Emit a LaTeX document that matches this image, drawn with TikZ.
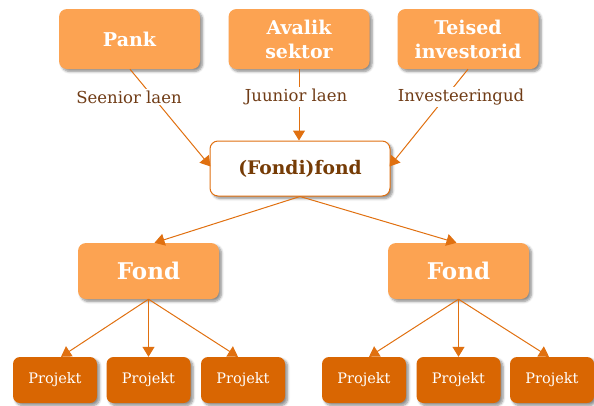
\documentclass[tikz,border=0pt]{standalone}
\usepackage{fontspec}
\setmainfont{DejaVu Serif}
\usetikzlibrary{arrows.meta,shadows.blur,calc}
\definecolor{lightorange}{RGB}{252,163,82}
\definecolor{darkorange}{RGB}{217,102,2}
\definecolor{lineorange}{RGB}{224,112,16}
\definecolor{labelbrown}{RGB}{112,60,22}
\definecolor{titlebrown}{RGB}{118,60,6}
\tikzset{
  boxshadow/.style={blur shadow={shadow xshift=2.5pt, shadow yshift=-2.5pt,
      shadow blur steps=6, shadow blur radius=2.5pt, shadow opacity=45}},
  topbox/.style={rectangle, rounded corners=8pt, fill=lightorange, text=white,
      minimum width=141pt, minimum height=60pt, align=center, inner sep=0pt,
      font=\fontsize{19}{24}\selectfont\bfseries, boxshadow},
  hubbox/.style={rectangle, rounded corners=8pt, fill=white, draw=lineorange,
      line width=1pt, text=titlebrown, minimum width=180pt, minimum height=55pt,
      inner sep=0pt, font=\fontsize{18.7}{22}\selectfont\bfseries, boxshadow},
  fundbox/.style={rectangle, rounded corners=8pt, fill=lightorange, text=white,
      minimum width=141pt, minimum height=56pt, inner sep=0pt,
      font=\fontsize{23}{27}\selectfont\bfseries, boxshadow},
  projbox/.style={rectangle, rounded corners=7pt, fill=darkorange, text=white,
      minimum width=84pt, minimum height=46pt, inner sep=0pt,
      font=\fontsize{14.5}{17}\selectfont, boxshadow},
  flowlabel/.style={fill=white, text=labelbrown, inner sep=2pt,
      font=\fontsize{16.5}{19}\selectfont},
  flow/.style={draw=lineorange, line width=1pt,
      -{Triangle[length=10pt,width=12pt]}},
}
\begin{document}
\begin{tikzpicture}[x=1pt,y=-1pt]
\useasboundingbox (0,0) rectangle (594,405);

% sources
\node[topbox] (pank)   at (129.5,39) {Pank};
\node[topbox] (avalik) at (299,39)   {Avalik\\sektor};
\node[topbox] (teised) at (468,39)   {Teised\\investorid};

% fund of funds
\node[hubbox] (hub) at (300,168.5) {(Fondi)fond};

% funds
\node[fundbox] (fondL) at (148.5,271) {Fond};
\node[fundbox] (fondR) at (458.5,271) {Fond};

% projects
\foreach \i/\x in {1/55,2/148.5,3/243,4/364,5/458.5,6/552}
  \node[projbox] (p\i) at (\x,380) {Projekt};

% financing flows into the fund of funds
\draw[flow] ($(pank.south)+(0.5,0)$) -- ($(hub.west)+(1,-2)$);
\draw[flow] (avalik.south) -- (avalik.south |- hub.north);
\draw[flow] (teised.south) -- ($(hub.east)+(-1,-2)$);

\node[flowlabel] (lab1) at (129,97) {Seenior laen};
\node[flowlabel] (lab2) at (296,97) {Juunior laen};
\node[flowlabel] (lab3) at (461,97) {Investeeringud};

% fund of funds to funds
\draw[flow] (hub.south) -- ($(fondL.north)+(6,0)$);
\draw[flow] (hub.south) -- ($(fondR.north)+(-2,0)$);

% funds to projects
\draw[flow] (fondL.south) -- ($(p1.north)+(6,0)$);
\draw[flow] (fondL.south) -- (p2.north);
\draw[flow] (fondL.south) -- ($(p3.north)+(-5,0)$);
\draw[flow] (fondR.south) -- ($(p4.north)+(5,0)$);
\draw[flow] (fondR.south) -- (p5.north);
\draw[flow] (fondR.south) -- ($(p6.north)+(-3,0)$);
\end{tikzpicture}
\end{document}
